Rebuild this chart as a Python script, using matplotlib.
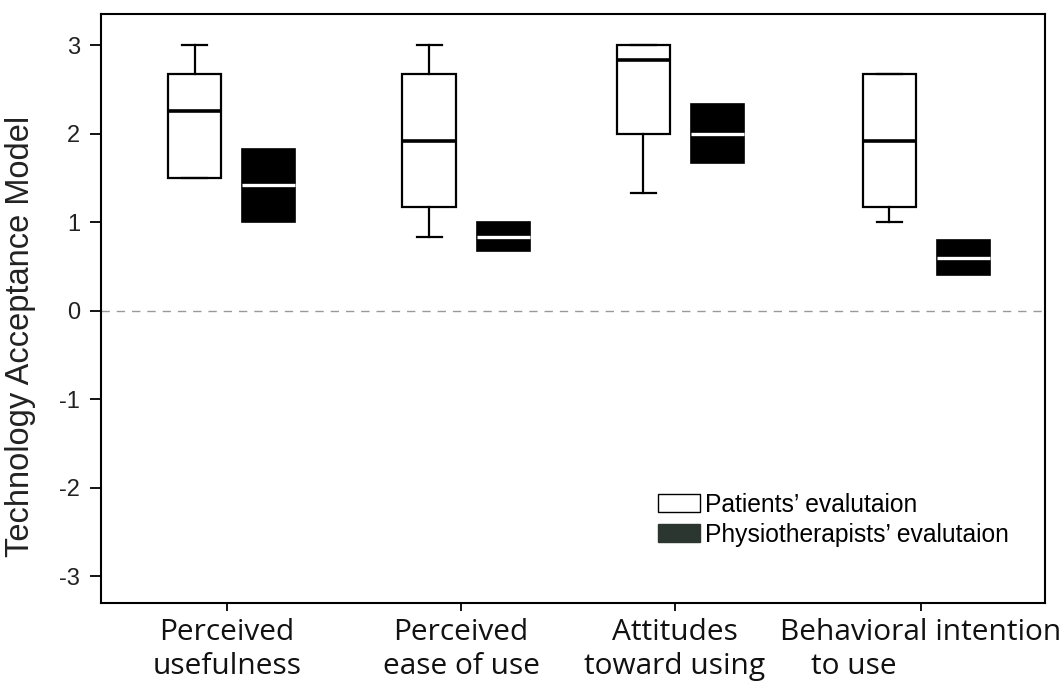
import matplotlib
matplotlib.use("Agg")
import matplotlib.pyplot as plt
from matplotlib.patches import Patch

# data
categories = ["Perceived\nusefulness", "Perceived\nease of use",
              "Attitudes\ntoward using", "Behavioral intention\n    to use"]

# patients: whisker low, q1, median, q3, whisker high
pat_lo = [1.50, 0.83, 1.33, 1.00]
pat_q1 = [1.50, 1.17, 2.00, 1.17]
pat_med = [2.25, 1.92, 2.83, 1.92]
pat_q3 = [2.67, 2.67, 3.00, 2.67]
pat_hi = [3.00, 3.00, 3.00, 2.67]

# physiotherapists
phy_q1 = [1.00, 0.67, 1.67, 0.40]
phy_med = [1.42, 0.83, 2.00, 0.60]
phy_q3 = [1.83, 1.00, 2.33, 0.80]

tick_pos = [1.26, 3.60, 5.74, 8.20]


def make_stats(lo, q1, med, q3, hi):
    return [dict(whislo=a, q1=b, med=c, q3=d, whishi=e, fliers=[])
            for a, b, c, d, e in zip(lo, q1, med, q3, hi)]


fig = plt.figure(figsize=(10.62, 6.91), dpi=100)
ax = fig.add_axes([0.0951, 0.1274, 0.8889, 0.8523])

ax.axhline(0, color="#999999", lw=1.0, ls=(0, (6, 5)), zorder=0)

ax.bxp(make_stats(pat_lo, pat_q1, pat_med, pat_q3, pat_hi),
       positions=[p - 0.32 for p in tick_pos], widths=0.53, capwidths=0.25,
       patch_artist=True, showfliers=False,
       boxprops=dict(facecolor="white", edgecolor="black", linewidth=1.6),
       whiskerprops=dict(color="black", linewidth=1.6),
       capprops=dict(color="black", linewidth=1.6),
       medianprops=dict(color="black", linewidth=2.6))

ax.bxp(make_stats(phy_q1, phy_q1, phy_med, phy_q3, phy_q3),
       positions=[p + 0.42 for p in tick_pos], widths=0.53, capwidths=0.0,
       patch_artist=True, showfliers=False,
       boxprops=dict(facecolor="black", edgecolor="black", linewidth=1.2),
       whiskerprops=dict(color="black", linewidth=0),
       capprops=dict(color="black", linewidth=0),
       medianprops=dict(color="white", linewidth=2.4))

ax.set_xlim(0, 9.44)
ax.set_ylim(-3.3, 3.35)
ax.set_yticks([-3, -2, -1, 0, 1, 2, 3])
ax.set_yticklabels(["-3", "-2", "-1", "0", "1", "2", "3"],
                   family="Liberation Sans", fontsize=17, color="#222222")
ax.set_xticks(tick_pos)
ax.set_xticklabels(categories, family="Open Sans", fontsize=21.5,
                   linespacing=1.2, multialignment="left", color="#111111")
for lab in ax.get_xticklabels()[:3]:
    lab.set_multialignment("center")

ax.tick_params(axis="y", direction="out", length=8, width=1.3, pad=7)
ax.tick_params(axis="x", direction="out", length=6, width=1.3, pad=5)
for s in ax.spines.values():
    s.set_linewidth(1.5)

ax.set_ylabel("Technology Acceptance Model", family="Liberation Sans",
              fontsize=23.5, color="#222222")
ax.yaxis.set_label_coords(-0.069, 0.452)

handles = [Patch(facecolor="white", edgecolor="black", linewidth=1.0),
           Patch(facecolor="#2b3630", edgecolor="#2b3630", linewidth=1.0)]
ax.legend(handles, ["Patients\u2019 evalutaion", "Physiotherapists\u2019 evalutaion"],
          loc="lower left", bbox_to_anchor=(0.59, 0.095), frameon=False,
          prop=dict(family="Liberation Sans", size=17.7),
          handlelength=1.7, handleheight=0.75, handletextpad=0.2,
          labelspacing=0.25, borderaxespad=0, borderpad=0)

fig.savefig("out.png", dpi=100)
